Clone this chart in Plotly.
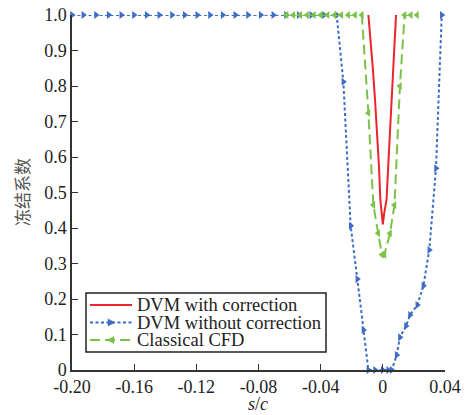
import numpy as np
import plotly.graph_objects as go

# ---------------- data ----------------
red_s = [-0.0093, -0.0078, -0.0065, -0.005, -0.0035, -0.0025, -0.0016, -0.0007, 0.0,
         0.0008, 0.0024, 0.004, 0.0057, 0.0071, 0.0085]
red_y = [1.0, 0.93, 0.854, 0.76, 0.667, 0.575, 0.48, 0.44, 0.41,
         0.44, 0.48, 0.62, 0.76, 0.88, 1.0]

blue_flat_s = list(np.round(np.linspace(-0.1927, -0.0297, 21), 5))
blue_s = [-0.2] + blue_flat_s + [-0.0254, -0.0207, -0.0164, -0.0125, -0.0093, -0.005, -0.0001,
                                 0.0035, 0.0057, 0.0089, 0.011, 0.0149, 0.0175, 0.0222,
                                 0.0261, 0.0299, 0.0342, 0.0379]
blue_y = [1.0] + [1.0] * 21 + [0.812, 0.406, 0.256, 0.113, 0.0, 0.0, 0.0,
                               0.0, 0.0, 0.042, 0.092, 0.124, 0.155, 0.183,
                               0.237, 0.338, 0.568, 1.0]

green_flat_s = list(np.round(np.linspace(-0.062, -0.0135, 12), 5))
green_s = green_flat_s + [-0.0093, -0.0061, -0.003, -0.0005, 0.001, 0.0046, 0.0075,
                          0.011, 0.014, 0.018, 0.022]
green_y = [1.0] * 12 + [0.724, 0.465, 0.385, 0.325, 0.325, 0.385, 0.465,
                        0.80, 1.0, 1.0, 1.0]

x_ticks = [-0.20, -0.16, -0.12, -0.08, -0.04, 0.0, 0.04]
x_tick_labels = ["-0.20", "-0.16", "-0.12", "-0.08", "-0.04", "0", "0.04"]
y_ticks = [0, 0.1, 0.2, 0.3, 0.4, 0.5, 0.6, 0.7, 0.8, 0.9, 1.0]
y_tick_labels = ["0", "0.1", "0.2", "0.3", "0.4", "0.5", "0.6", "0.7", "0.8", "0.9", "1.0"]

names = ["DVM with correction", "DVM without correction", "Classical CFD"]

# ---------------- style ----------------
RED = "#E8262B"
BLUE = "#3F6CC4"
GREEN = "#7CC24A"
W, H = 466, 415
L, R, T, B = 72, 21, 15, 45
PW, PH = W - L - R, H - T - B
SERIF = "Liberation Serif, Times New Roman, serif"


def px(x):
    return (x - L) / PW


def py(y):
    return (H - B - y) / PH


fig = go.Figure()
fig.add_trace(go.Scatter(x=red_s, y=red_y, mode="lines", name=names[0],
                         line=dict(color=RED, width=2), showlegend=False,
                         cliponaxis=False))
fig.add_trace(go.Scatter(x=blue_s, y=blue_y, mode="lines+markers", name=names[1],
                         line=dict(color=BLUE, width=2, dash="3px,2.5px"),
                         marker=dict(symbol="triangle-right", size=7, color=BLUE),
                         showlegend=False, cliponaxis=False))
fig.add_trace(go.Scatter(x=green_s, y=green_y, mode="lines+markers", name=names[2],
                         line=dict(color=GREEN, width=2, dash="10px,5px"),
                         marker=dict(symbol="triangle-left", size=7, color=GREEN),
                         showlegend=False, cliponaxis=False))

# ---------------- manual legend ----------------
shapes = []
annotations = []
shapes.append(dict(type="rect", xref="paper", yref="paper",
                   x0=px(86), x1=px(326), y0=py(352), y1=py(293),
                   line=dict(color="#222", width=1.5), fillcolor="white", layer="above"))
rows = [305, 322.5, 340]
styles = [(RED, "solid", None), (BLUE, "3px,2.5px", "right"), (GREEN, "10px,5px", "left")]
for (col, dash, tri), yy, nm in zip(styles, rows, names):
    shapes.append(dict(type="line", xref="paper", yref="paper",
                       x0=px(90), x1=px(132), y0=py(yy), y1=py(yy),
                       line=dict(color=col, width=2, dash=dash), layer="above"))
    if tri:
        cx = 111
        if tri == "right":
            pts = [(cx - 3, yy - 3.5), (cx + 4, yy), (cx - 3, yy + 3.5)]
        else:
            pts = [(cx + 3, yy - 3.5), (cx - 4, yy), (cx + 3, yy + 3.5)]
        path = "M " + " L ".join(f"{px(a):.5f},{py(b):.5f}" for a, b in pts) + " Z"
        shapes.append(dict(type="path", xref="paper", yref="paper", path=path,
                           fillcolor=col, line=dict(color=col, width=0.5), layer="above"))
    annotations.append(dict(text=nm, xref="paper", yref="paper", x=px(135), y=py(yy),
                            xanchor="left", yanchor="middle", showarrow=False,
                            font=dict(family=SERIF, size=18.5, color="#222")))

# axis titles
annotations.append(dict(text="<i>s</i>/<i>c</i>", xref="paper", yref="paper",
                        x=px(258), y=py(404), xanchor="center", yanchor="middle",
                        showarrow=False, font=dict(family=SERIF, size=18, color="#222")))
annotations.append(dict(text="冻结系数", xref="paper", yref="paper",
                        x=px(21), y=py(192), xanchor="center", yanchor="middle",
                        textangle=-90, showarrow=False,
                        font=dict(family="Noto Sans CJK SC", size=17, color="#555")))

fig.update_layout(
    width=W, height=H,
    margin=dict(l=L, r=R, t=T, b=B, autoexpand=False),
    paper_bgcolor="white", plot_bgcolor="white",
    shapes=shapes, annotations=annotations,
    showlegend=False,
    font=dict(family=SERIF, size=18, color="#222"),
)
fig.update_xaxes(range=[-0.2, 0.04], tickvals=x_ticks, ticktext=x_tick_labels,
                 ticks="inside", ticklen=6, tickwidth=1.2, tickcolor="#333",
                 showline=True, linecolor="#333", linewidth=1.5, showgrid=False,
                 zeroline=False, mirror=False, automargin=False,
                 tickfont=dict(family=SERIF, size=18, color="#222"))
fig.update_yaxes(range=[0, 1.0], tickvals=y_ticks, ticktext=y_tick_labels,
                 ticks="inside", ticklen=6, tickwidth=1.2, tickcolor="#333",
                 showline=True, linecolor="#333", linewidth=1.5, showgrid=False,
                 zeroline=False, mirror=False, automargin=False,
                 tickfont=dict(family=SERIF, size=18, color="#222"))

fig.write_html("out.html")
